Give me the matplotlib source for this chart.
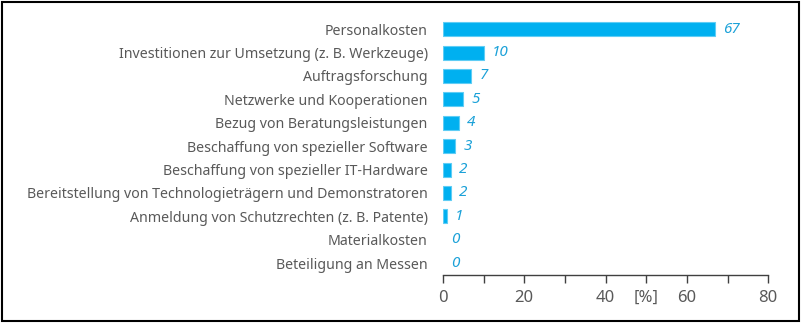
import matplotlib
matplotlib.use("Agg")
import matplotlib.pyplot as plt
from matplotlib.ticker import MultipleLocator
from matplotlib.patches import Rectangle

categories = [
    "Personalkosten",
    "Investitionen zur Umsetzung (z. B. Werkzeuge)",
    "Auftragsforschung",
    "Netzwerke und Kooperationen",
    "Bezug von Beratungsleistungen",
    "Beschaffung von spezieller Software",
    "Beschaffung von spezieller IT-Hardware",
    "Bereitstellung von Technologieträgern und Demonstratoren",
    "Anmeldung von Schutzrechten (z. B. Patente)",
    "Materialkosten",
    "Beteiligung an Messen",
]
values = [67, 10, 7, 5, 4, 3, 2, 2, 1, 0, 0]
xticks = [0, 20, 40, 60, 80]

plt.rcParams['font.family'] = ['Noto Sans', 'DejaVu Sans']
fig = plt.figure(figsize=(8.01, 3.23), dpi=100)
ax = fig.add_axes([0.553, 0.149, 0.406, 0.797])

ypos = list(range(len(categories)))
lws = [0.8 if v > 0 else 0 for v in values]
ax.barh(ypos, values, height=0.6, color="#00b0f0", edgecolor="#5fcdf5", linewidth=lws)
ax.set_ylim(len(categories) - 0.5, -0.5)
ax.set_xlim(0, 80)
ax.set_yticks(ypos)
ax.set_yticklabels(categories, fontsize=10.2, color="#595959")
ax.tick_params(axis='y', length=0, pad=11)
ax.set_xticks(xticks)
ax.xaxis.set_minor_locator(MultipleLocator(10))
ax.tick_params(axis='x', which='both', direction='out', length=6, width=1, color="#404040",
               labelsize=12, labelcolor="#595959", pad=5)
for s in ["top", "right", "left"]:
    ax.spines[s].set_visible(False)
ax.spines["bottom"].set_color("#404040")
ax.spines["bottom"].set_linewidth(1)

for y, v in zip(ypos, values):
    ax.text(v + 2.0, y, str(v), va='center', ha='left', fontsize=11,
            style='italic', color="#1ba1d8")

ax.text(50, -0.058, "[%]", transform=ax.get_xaxis_transform(), ha='center', va='top',
        fontsize=12, color="#595959")

fig.patches.append(Rectangle((0.003, 0.005), 0.994, 0.99, transform=fig.transFigure,
                             fill=False, edgecolor="black", linewidth=1.5))

fig.savefig("out.png", dpi=100)
